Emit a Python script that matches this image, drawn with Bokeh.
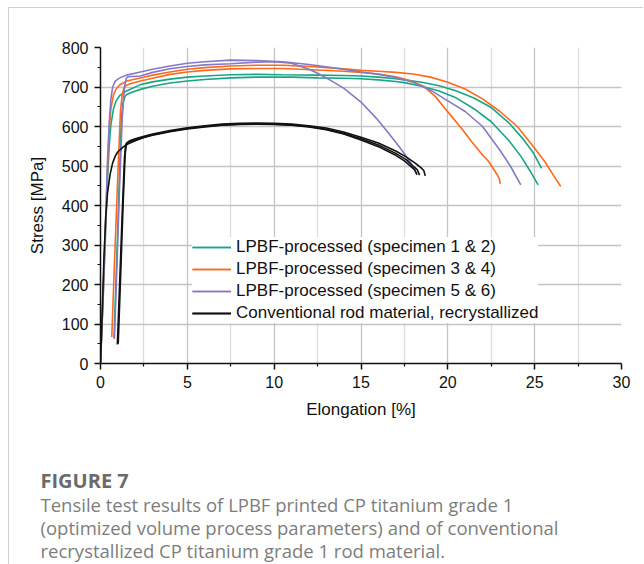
from bokeh.plotting import figure
from bokeh.models import Range1d, FixedTicker
from bokeh.layouts import column
from bokeh.core.properties import value
from bokeh.embed import file_html
from bokeh.resources import INLINE

# ---------------- data ----------------
x_ticks = [0, 5, 10, 15, 20, 25, 30]
x_minor = [2.5, 7.5, 12.5, 17.5, 22.5, 27.5]
y_ticks = [0, 100, 200, 300, 400, 500, 600, 700, 800]
y_minor = [50, 150, 250, 350, 450, 550, 650, 750]

# LPBF specimen 1 & 2 (green)
green1_x = [0.78, 1.0, 1.2, 1.3, 1.4, 1.48, 1.6, 1.9, 2.3, 3, 4, 5, 6, 7.5, 9, 10, 11, 12.5, 14, 15, 16, 17,
            17.5, 18.5, 19.5, 20.5, 21.5, 22.5, 23.5, 24.2, 24.7, 25.2]
green1_y = [64, 350, 620, 660, 675, 680, 683, 688, 694, 702, 710, 715, 719, 723, 725, 725, 725, 723, 722, 721,
            718, 714, 711, 702, 690, 672, 645, 612, 565, 525, 490, 452]
green2_x = [0, 0.15, 0.3, 0.4, 0.5, 0.6, 0.75, 0.9, 1.1, 1.5, 2.3, 3, 4, 5, 6, 7.5, 9, 10.5, 12.5, 14, 15, 16,
            17, 17.5, 18.5, 19.5, 20.5, 21.5, 22.5, 23.5, 24.3, 24.9, 25.4]
green2_y = [0, 160, 340, 460, 550, 605, 645, 665, 678, 690, 706, 713, 720, 725, 728, 731, 732, 731, 730, 729,
            728, 725, 721, 718, 712, 703, 690, 672, 648, 610, 570, 535, 494]

# LPBF specimen 3 & 4 (orange)
orange1_x = [0, 0.15, 0.3, 0.4, 0.5, 0.6, 0.75, 0.9, 1.1, 1.5, 2.3, 3, 4, 5, 6, 7.5, 9, 10.5, 12.5, 14, 15, 16,
             17, 18, 19, 20, 21, 22, 23, 24, 25, 25.6, 26.1, 26.5]
orange1_y = [0, 170, 360, 490, 590, 645, 680, 695, 705, 715, 723, 730, 738, 745, 749, 753, 755, 755, 751, 746,
             742, 740, 737, 733, 725, 712, 695, 670, 638, 600, 545, 510, 475, 448]
orange2_x = [0.65, 0.8, 1.0, 1.15, 1.25, 1.35, 1.45, 1.7, 2.3, 3, 4, 5, 6, 7.5, 9, 10.5, 12.5, 14, 15, 16, 17,
             17.5, 18, 18.6, 19.3, 20, 20.7, 21.4, 22, 22.34, 22.7, 22.92, 22.98, 23.02]
orange2_y = [67, 250, 480, 640, 680, 698, 703, 708, 715, 722, 732, 738, 742, 746, 747, 747, 743, 740, 737, 733,
             726, 720, 713, 702, 675, 637, 600, 560, 528, 512, 488, 472, 465, 455]

# LPBF specimen 5 & 6 (purple)
purple1_x = [0, 0.15, 0.3, 0.4, 0.5, 0.6, 0.7, 0.85, 1.0, 1.2, 1.5, 2.3, 3, 4, 5, 6, 7.5, 9, 10.5, 12, 13.5, 15,
             16, 17, 18, 19, 20, 21, 22, 23, 23.6, 24.2]
purple1_y = [0, 175, 370, 510, 610, 670, 700, 715, 720, 725, 730, 738, 745, 753, 760, 764, 768, 767, 764, 757,
             748, 738, 732, 724, 712, 692, 665, 638, 600, 540, 500, 452]
purple2_x = [0.8, 0.95, 1.1, 1.25, 1.38, 1.48, 1.6, 2.3, 3, 4, 5, 6, 7.5, 9, 10, 11, 12, 12.5, 13.2, 14, 15,
             15.9, 16.5, 17, 17.45, 17.9, 18.22]
purple2_y = [62, 250, 450, 620, 700, 722, 726, 728, 737, 746, 752, 756, 759, 763, 764, 760, 745, 735, 718, 697,
             662, 620, 588, 560, 534, 505, 479]

# Conventional rod material (black)
black1_x = [0, 0.1, 0.2, 0.3, 0.4, 0.55, 0.7, 0.85, 1.0, 1.3, 1.6, 2, 2.5, 3, 4, 5, 6, 7, 8, 9, 10, 11, 12, 13,
            14, 15, 16, 17, 17.5, 17.9, 18.1, 18.22]
black1_y = [0, 130, 270, 370, 430, 478, 508, 525, 536, 548, 556, 564, 572, 578, 587, 594, 599, 603, 605, 606,
            605, 603, 599, 592, 581, 566, 549, 527, 513, 498, 490, 478]
black2_x = [0.97, 1.1, 1.25, 1.38, 1.45, 1.6, 2, 2.5, 3, 4, 5, 6, 7, 8, 9, 10, 11, 12, 13, 14, 15, 16, 17, 17.6,
            18.0, 18.25, 18.37]
black2_y = [48, 200, 380, 520, 555, 560, 566, 573, 579, 588, 595, 600, 604, 606, 607, 606, 604, 600, 593, 583,
            569, 553, 532, 516, 500, 490, 477]
black3_x = [1.02, 1.15, 1.3, 1.42, 1.5, 1.65, 2, 2.5, 3, 4, 5, 6, 7, 8, 9, 10, 11, 12, 13, 14, 15, 16, 17, 17.6,
            18.1, 18.45, 18.62, 18.7]
black3_y = [50, 210, 400, 530, 558, 563, 569, 575, 581, 590, 597, 602, 606, 608, 609, 608, 606, 602, 596, 586,
            573, 558, 538, 523, 508, 496, 488, 475]

series = [
    ("LPBF-processed (specimen 1 & 2)", "#17a585", [(green1_x, green1_y), (green2_x, green2_y)]),
    ("LPBF-processed (specimen 3 & 4)", "#fb6a1c", [(orange1_x, orange1_y), (orange2_x, orange2_y)]),
    ("LPBF-processed (specimen 5 & 6)", "#8479c6", [(purple1_x, purple1_y), (purple2_x, purple2_y)]),
    ("Conventional rod material, recrystallized", "#111111",
     [(black1_x, black1_y), (black2_x, black2_y), (black3_x, black3_y)]),
]

caption_head = "FIGURE 7"
caption_lines = [
    "Tensile test results of LPBF printed CP titanium grade 1",
    "(optimized volume process parameters) and of conventional",
    "recrystallized CP titanium grade 1 rod material.",
]

W = 634
H_PLOT = 422
H_CAP = 134

# ---------------- chart ----------------
p = figure(width=W, height=H_PLOT, output_backend="svg", toolbar_location=None,
           x_range=Range1d(0, 30), y_range=Range1d(0, 800),
           min_border_left=91, min_border_right=22, min_border_top=39, min_border_bottom=67)
p.outline_line_color = None
p.background_fill_color = "white"
p.border_fill_color = "white"

p.xaxis.ticker = FixedTicker(ticks=x_ticks, minor_ticks=x_minor)
p.yaxis.ticker = FixedTicker(ticks=y_ticks, minor_ticks=y_minor)
for ax in (p.xaxis[0], p.yaxis[0]):
    ax.axis_line_color = "#111111"
    ax.axis_line_width = 1.5
    ax.major_tick_line_color = "#111111"
    ax.major_tick_line_width = 1.5
    ax.minor_tick_line_color = "#111111"
    ax.minor_tick_line_width = 1.2
    ax.major_tick_in = 0
    ax.major_tick_out = 6
    ax.minor_tick_in = 0
    ax.minor_tick_out = 3
    ax.major_label_text_font = "Liberation Sans"
    ax.major_label_text_font_size = "16px"
    ax.major_label_text_color = "#111111"
    ax.major_label_standoff = 6
    ax.axis_label_text_font = "Liberation Sans"
    ax.axis_label_text_font_size = "17px"
    ax.axis_label_text_font_style = "normal"
    ax.axis_label_text_color = "#111111"
p.xaxis.axis_label = "Elongation [%]"
p.yaxis.axis_label = "Stress [MPa]"
p.xaxis.axis_label_standoff = 9
p.yaxis.axis_label_standoff = 12

p.xgrid.ticker = FixedTicker(ticks=[5, 10, 15, 20, 25], minor_ticks=x_minor)
p.ygrid.ticker = FixedTicker(ticks=[100, 200, 300, 400, 500, 600, 700])
p.xgrid.grid_line_color = "#c4c4c4"
p.xgrid.grid_line_width = 1.3
p.xgrid.minor_grid_line_color = "#dddddd"
p.xgrid.minor_grid_line_width = 1.3
p.ygrid.grid_line_color = "#c4c4c4"
p.ygrid.grid_line_width = 1.3

for label, color, curves in series:
    for cx, cy in curves:
        p.line(cx, cy, line_color=color, line_width=1.6, legend_label=label)

leg = p.legend[0]
leg.location = (92, 40)
leg.border_line_color = None
leg.background_fill_color = "white"
leg.background_fill_alpha = 1.0
leg.padding = 3
leg.spacing = 2
leg.margin = 0
leg.glyph_width = 39
leg.glyph_height = 20
leg.label_height = 20
leg.label_standoff = 5
leg.label_text_font = "Liberation Sans"
leg.label_text_font_size = "17px"
leg.label_text_color = "#111111"

# ---------------- caption panel ----------------
c = figure(width=W, height=H_CAP, output_backend="svg", toolbar_location=None,
           x_range=Range1d(0, W), y_range=Range1d(H_CAP, 0),
           x_axis_type=None, y_axis_type=None,
           min_border_left=0, min_border_right=0, min_border_top=0, min_border_bottom=0)
c.outline_line_color = None
c.grid.visible = False
c.background_fill_color = "white"
c.border_fill_color = "white"
p.frame_align = False
c.frame_align = False

cap_x = 31
c.text(x=[cap_x], y=[50], text=[caption_head], text_font=value("Open Sans"), text_font_size="20px",
       text_font_style="bold", text_color="#6a6a6a", text_baseline="middle", text_align="left")
c.text(x=[cap_x] * len(caption_lines), y=[74 + 23 * i for i in range(len(caption_lines))],
       text=caption_lines, text_font=value("Open Sans"), text_font_size="18.5px",
       text_color="#7d7d7d", text_baseline="middle", text_align="left")

layout = column(p, c, spacing=0,
                styles={"margin-left": "8px", "margin-top": "7px",
                        "border-left": "1px solid #cfcfcf", "border-top": "1px solid #cfcfcf"})

open("out.html", "w").write(file_html(layout, INLINE))
